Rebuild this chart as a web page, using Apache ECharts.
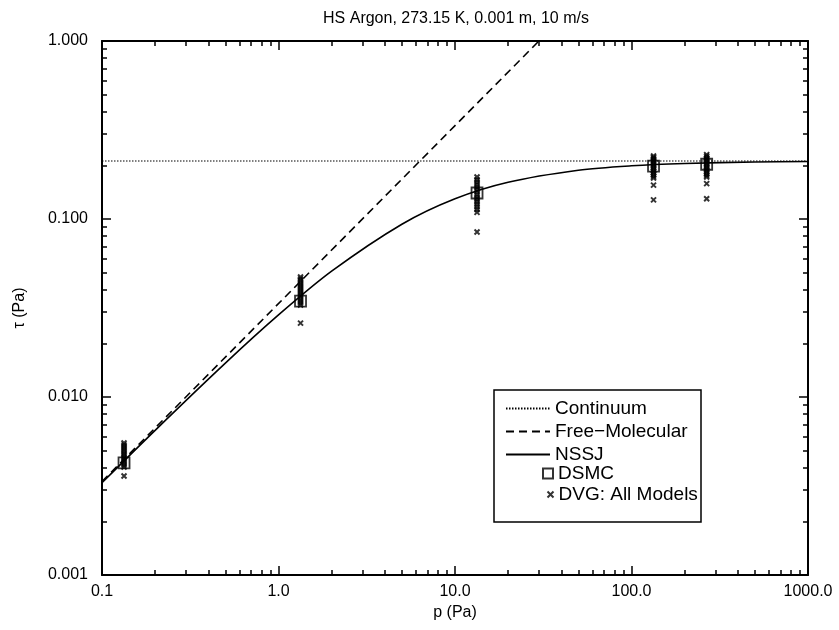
<!DOCTYPE html>
<html><head><meta charset="utf-8">
<script src="https://cdn.jsdelivr.net/npm/echarts@6/dist/echarts.min.js"></script>
<style>html,body{margin:0;padding:0;background:#fff}#c{width:839px;height:630px}</style>
</head><body><div id="c"></div><script>
const titleText = 'HS Argon, 273.15 K, 0.001 m, 10 m/s';
const xTickValues = [0.1, 1, 10, 100, 1000];
const xTickLabels = ['0.1', '1.0', '10.0', '100.0', '1000.0'];
const yTickValues = [0.001, 0.01, 0.1, 1];
const yTickLabels = ['0.001', '0.010', '0.100', '1.000'];

const continuumP = [0.1, 1000];
const continuumTau = [0.2117, 0.2117];
const freeMolP = [0.1, 29.9];
const freeMolTau = [0.00335, 1.0];
const nssjP = [0.1, 0.2, 0.5, 1, 2, 5, 10, 20, 50, 100, 200, 500, 1000];
const nssjTau = [0.0033, 0.0065, 0.0155, 0.0289, 0.0509, 0.0935, 0.130, 0.161, 0.188, 0.199, 0.205, 0.209, 0.2105];
const dsmcP = [0.1333, 1.333, 13.33, 133.3, 266.6];
const dsmcTau = [0.00426, 0.0346, 0.140, 0.198, 0.203];
const dvgP = [0.1333, 1.333, 13.33, 133.3, 266.6];
const dvgTau1 = [0.0036, 0.00404, 0.00415, 0.00426, 0.00437, 0.00449, 0.0046, 0.00472, 0.00484, 0.00497, 0.0051, 0.00524, 0.00538, 0.00552];
const dvgTau2 = [0.026, 0.0329, 0.0337, 0.0346, 0.0355, 0.0365, 0.0374, 0.0384, 0.0394, 0.0404, 0.0415, 0.0426, 0.0437, 0.0449, 0.046, 0.0472];
const dvgTau3 = [0.0845, 0.109, 0.113, 0.117, 0.121, 0.125, 0.129, 0.133, 0.137, 0.142, 0.146, 0.151, 0.156, 0.161, 0.166, 0.172];
const dvgTau4 = [0.128, 0.155, 0.170, 0.174, 0.178, 0.182, 0.186, 0.190, 0.194, 0.198, 0.202, 0.206, 0.210, 0.214, 0.218, 0.222, 0.226];
const dvgTau5 = [0.130, 0.158, 0.172, 0.176, 0.180, 0.184, 0.188, 0.192, 0.196, 0.200, 0.204, 0.208, 0.212, 0.216, 0.220, 0.225, 0.230];
const dvgTau = [dvgTau1, dvgTau2, dvgTau3, dvgTau4, dvgTau5];

const xMinor = [];
[0.1, 1, 10, 100].forEach(d => { for (let k = 2; k <= 9; k++) xMinor.push(+(d * k).toPrecision(6)); });
const yMinor = [];
[0.001, 0.01, 0.1].forEach(d => { for (let k = 2; k <= 9; k++) yMinor.push(+(d * k).toPrecision(6)); });

const FONT = 'Liberation Sans';
const pair = (xs, ys) => xs.map((x, i) => [x, ys[i]]);
const lookup = (vals, labels) => v => {
  const i = vals.findIndex(t => Math.abs(Math.log10(t) - Math.log10(v)) < 1e-6);
  return i >= 0 ? labels[i] : '';
};
const dvgData = [];
dvgP.forEach((p, i) => dvgTau[i].forEach(t => dvgData.push([p, t])));

function xAx(pos, vals, len, showLine, labels) {
  return {
    type: 'log', logBase: 10, min: 0.1, max: 1000, position: pos, gridIndex: 0,
    axisLine: { show: showLine, onZero: false, lineStyle: { color: '#000', width: 2 } },
    axisTick: { show: true, inside: true, length: len, customValues: vals, lineStyle: { color: '#000', width: 1.5 } },
    axisLabel: labels ? { show: true, customValues: vals, formatter: lookup(xTickValues, xTickLabels), color: '#000', fontSize: 16, fontFamily: FONT, margin: 9 } : { show: false },
    splitLine: { show: false }, minorTick: { show: false }
  };
}
function yAx(pos, vals, len, showLine, labels) {
  return {
    type: 'log', logBase: 10, min: 0.001, max: 1, position: pos, gridIndex: 0,
    axisLine: { show: showLine, onZero: false, lineStyle: { color: '#000', width: 2 } },
    axisTick: { show: true, inside: true, length: len, customValues: vals, lineStyle: { color: '#000', width: 1.5 } },
    axisLabel: labels ? { show: true, customValues: vals, formatter: lookup(yTickValues, yTickLabels), color: '#000', fontSize: 16, fontFamily: FONT, margin: 14 } : { show: false },
    splitLine: { show: false }, minorTick: { show: false }
  };
}

const xAxes = [
  Object.assign(xAx('bottom', xTickValues, 9, true, true), { name: 'p (Pa)', nameLocation: 'middle', nameGap: 28, nameTextStyle: { color: '#000', fontSize: 16, fontFamily: FONT } }),
  xAx('top', xTickValues, 9, true, false),
  xAx('bottom', xMinor, 5, false, false),
  xAx('top', xMinor, 5, false, false)
];
const yAxes = [
  Object.assign(yAx('left', yTickValues, 9, true, true), { name: 'τ (Pa)', nameLocation: 'middle', nameGap: 74, nameTextStyle: { color: '#000', fontSize: 16, fontFamily: FONT } }),
  yAx('right', yTickValues, 9, true, false),
  yAx('left', yMinor, 5, false, false),
  yAx('right', yMinor, 5, false, false)
];

const legendText = { fontSize: 19, lineHeight: 18, color: '#000', fontFamily: FONT };
const chart = echarts.init(document.getElementById('c'), null, { renderer: 'canvas' });
chart.setOption({
  animation: false,
  backgroundColor: '#fff',
  textStyle: { fontFamily: FONT },
  title: { text: titleText, left: 451, textAlign: 'center', top: 6, textStyle: { fontSize: 16, fontWeight: 'normal', color: '#000', fontFamily: FONT } },
  grid: { left: 102, right: 31, top: 41, bottom: 55, containLabel: false },
  xAxis: xAxes,
  yAxis: yAxes,
  graphic: [{ type: 'rect', z: 3, shape: { x: 494, y: 390, width: 207, height: 132 }, style: { fill: '#fff', stroke: '#000', lineWidth: 1.5 } }],
  legend: [
    { data: ['Continuum', 'Free−Molecular', 'NSSJ'], orient: 'vertical', left: 505, top: 399, padding: 0, itemWidth: 44, itemHeight: 14, itemGap: 4, z: 10,
      itemStyle: { color: 'rgba(0,0,0,0)', borderColor: 'rgba(0,0,0,0)', borderWidth: 0 },
      textStyle: legendText, selectedMode: false },
    { data: ['DSMC'], orient: 'vertical', left: 542, top: 464, padding: 0, itemWidth: 10, itemHeight: 10, z: 10,
      textStyle: legendText, selectedMode: false },
    { data: ['DVG: All Models'], orient: 'vertical', left: 545, top: 485, padding: 0, itemWidth: 6, itemHeight: 6, z: 10,
      textStyle: legendText, selectedMode: false }
  ],
  series: [
    { name: 'Continuum', type: 'line', data: pair(continuumP, continuumTau), symbol: 'none', showSymbol: false, lineStyle: { color: '#000', width: 1.2, type: [1.5, 1.5] }, itemStyle: { color: '#000' } },
    { name: 'Free−Molecular', type: 'line', data: pair(freeMolP, freeMolTau), symbol: 'none', showSymbol: false, clip: true, lineStyle: { color: '#000', width: 1.6, type: [8, 5] }, itemStyle: { color: '#000' } },
    { name: 'NSSJ', type: 'line', data: pair(nssjP, nssjTau), symbol: 'none', showSymbol: false, smooth: 0.3, lineStyle: { color: '#000', width: 1.6 }, itemStyle: { color: '#000' } },
    { name: 'DVG: All Models', type: 'scatter', data: dvgData, symbol: 'path://M0,0L10,10M10,0L0,10', symbolSize: 5, z: 3,
      itemStyle: { color: 'none', borderColor: '#000', borderWidth: 2 } },
    { name: 'DSMC', type: 'scatter', data: pair(dsmcP, dsmcTau), symbol: 'rect', symbolSize: 11, z: 4,
      itemStyle: { color: 'rgba(0,0,0,0)', borderColor: '#000', borderWidth: 1.8 } }
  ]
});
</script></body></html>
